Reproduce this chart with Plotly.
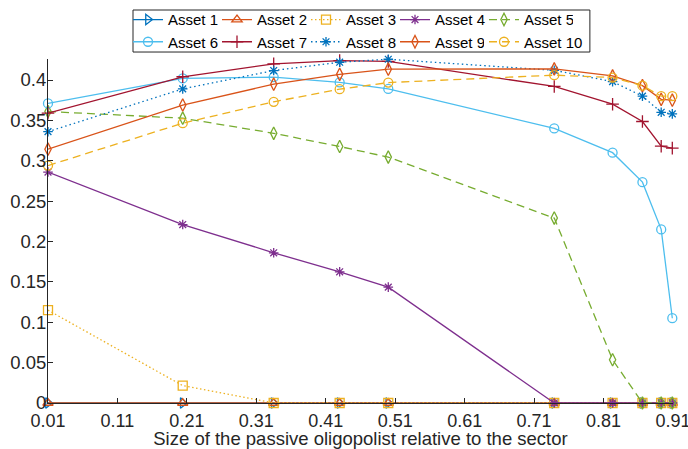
import plotly.graph_objects as go

# Relative size of the passive oligopolist (x) and the value for each asset
size_share = [0.01, 0.204, 0.335, 0.43, 0.50, 0.739, 0.823, 0.866, 0.893, 0.909]
x_tick_vals = [0.01, 0.11, 0.21, 0.31, 0.41, 0.51, 0.61, 0.71, 0.81, 0.91]
x_tick_text = ["0.01", "0.11", "0.21", "0.31", "0.41", "0.51", "0.61", "0.71", "0.81", "0.91"]
y_tick_vals = [0, 0.05, 0.1, 0.15, 0.2, 0.25, 0.3, 0.35, 0.4]
y_tick_text = ["0", "0.05", "0.1", "0.15", "0.2", "0.25", "0.3", "0.35", "0.4"]

asset_1 = [0, 0, 0, 0, 0, 0, 0, 0, 0, 0]
asset_2 = [0, 0, 0, 0, 0, 0, 0, 0, 0, 0]
asset_3 = [0.115, 0.0215, 0, 0, 0, 0, 0, 0, 0, 0]
asset_4 = [0.286, 0.221, 0.186, 0.1625, 0.1435, 0, 0, 0, 0, 0]
asset_5 = [0.361, 0.3527, 0.334, 0.3176, 0.3045, 0.229, 0.0536, 0, 0, 0]
asset_6 = [0.371, 0.402, 0.4035, 0.397, 0.389, 0.340, 0.310, 0.2735, 0.215, 0.105]
asset_7 = [0.359, 0.404, 0.420, 0.424, 0.423, 0.392, 0.370, 0.3486, 0.318, 0.3156]
asset_8 = [0.336, 0.389, 0.4117, 0.422, 0.4257, 0.412, 0.398, 0.380, 0.360, 0.358]
asset_9 = [0.3143, 0.369, 0.3948, 0.407, 0.4134, 0.4137, 0.405, 0.393, 0.376, 0.375]
asset_10 = [0.294, 0.3465, 0.373, 0.3886, 0.3968, 0.406, 0.403, 0.393, 0.380, 0.380]

names = ["Asset 1", "Asset 2", "Asset 3", "Asset 4", "Asset 5",
         "Asset 6", "Asset 7", "Asset 8", "Asset 9", "Asset 10"]
series = [asset_1, asset_2, asset_3, asset_4, asset_5,
          asset_6, asset_7, asset_8, asset_9, asset_10]

colors = ["#0072BD", "#D95319", "#EDB120", "#7E2F8E", "#77AC30",
          "#4DBEEE", "#A2142F", "#0072BD", "#D95319", "#EDB120"]
symbols = ["triangle-right-open", "triangle-up-open", "square-open", "asterisk-open",
           "diamond-tall-open", "circle-open", "cross-thin-open", "asterisk-open",
           "diamond-tall-open", "circle-open"]
dashes = ["solid", "solid", "1.5px,2.5px", "solid", "8px,5px",
          "solid", "solid", "1.5px,3px", "solid", "8px,5px"]
# legend rows: first five entries on top, the rest below; the last entry sits
# in its own legend so its longer label is not clipped
legend_ids = ["legend"] * 5 + ["legend2"] * 4 + ["legend3"]

FONT = "Liberation Sans, Arial, sans-serif"
INK = "#262626"

fig = go.Figure()
for i, (name, vals) in enumerate(zip(names, series)):
    fig.add_trace(go.Scatter(
        x=size_share, y=vals, name=name, mode="lines+markers",
        line=dict(color=colors[i], width=1.3, dash=dashes[i]),
        marker=dict(symbol=symbols[i], size=9 if "asterisk" not in symbols[i] else 8,
                    line=dict(color=colors[i], width=1.3)),
        cliponaxis=False,
        legend=legend_ids[i],
    ))

legend_style = dict(
    orientation="h", xanchor="left", yanchor="middle",
    bgcolor="rgba(0,0,0,0)", borderwidth=0,
    font=dict(family=FONT, size=15, color="#000000"),
    itemwidth=30, entrywidth=44, entrywidthmode="pixels",
    itemclick=False, itemdoubleclick=False, tracegroupgap=0,
)

row1_y, row2_y = 1.114, 1.0494
col0_x, col_step = 0.128, 89 / 625

fig.update_layout(
    width=688, height=449,
    margin=dict(l=48, r=15, t=59, b=46, autoexpand=False),
    paper_bgcolor="white", plot_bgcolor="white",
    font=dict(family=FONT, color=INK),
    showlegend=True,
    legend=dict(x=col0_x, y=row1_y, **legend_style),
    legend2=dict(x=col0_x, y=row2_y, **legend_style),
    legend3=dict(x=col0_x + 4 * col_step, y=row2_y,
                 **{**legend_style, "entrywidth": 60}),
    xaxis=dict(
        range=[0.01, 0.91], tickmode="array",
        tickvals=x_tick_vals, ticktext=x_tick_text,
        showline=True, linecolor=INK, linewidth=1,
        ticks="inside", ticklen=5, tickcolor=INK,
        showgrid=False, zeroline=False, automargin=False,
        ticklabeloverflow="allow", ticklabelstandoff=1,
        tickfont=dict(family=FONT, size=18, color=INK),
        title=dict(text="Size of the passive oligopolist relative to the sector",
                   font=dict(family=FONT, size=18.5, color=INK), standoff=2),
    ),
    yaxis=dict(
        range=[0, 0.426], tickmode="array",
        tickvals=y_tick_vals, ticktext=y_tick_text,
        showline=True, linecolor=INK, linewidth=1,
        ticks="inside", ticklen=5, tickcolor=INK,
        showgrid=False, zeroline=False, automargin=False,
        ticklabelstandoff=-3,
        tickfont=dict(family=FONT, size=18.5, color=INK),
    ),
    shapes=[dict(
        type="rect", xref="paper", yref="paper",
        x0=0.136, x1=0.867, y0=1.0203, y1=1.1424,
        line=dict(color=INK, width=1), fillcolor="white", layer="below",
    )],
)

fig.write_html("out.html")
